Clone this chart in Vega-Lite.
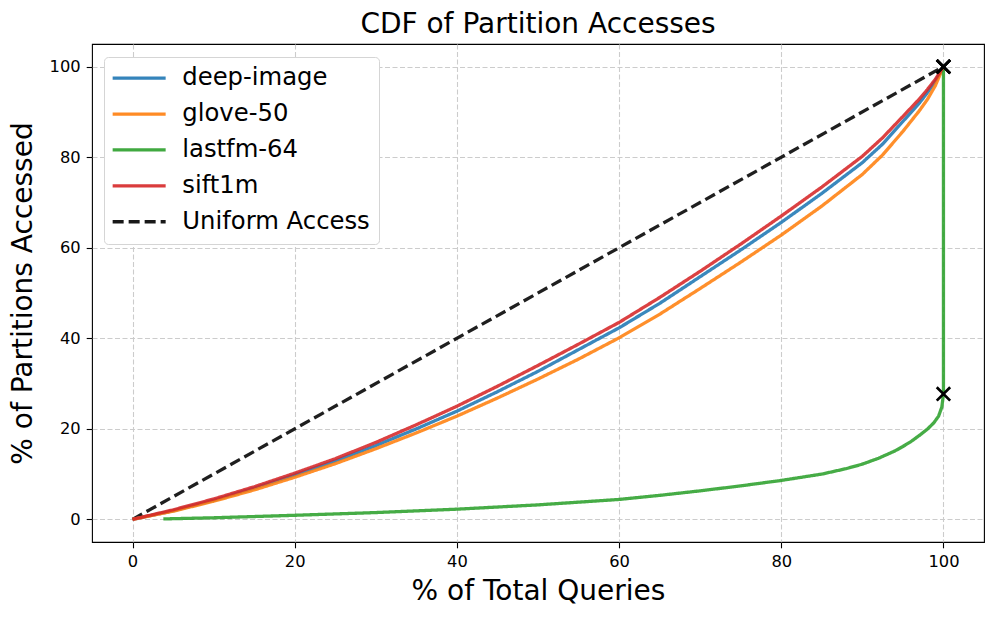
{
  "$schema": "https://vega.github.io/schema/vega-lite/v6.json",
  "width": 892,
  "height": 498,
  "autosize": {"type": "none"},
  "padding": {"left": 92, "top": 44, "right": 12, "bottom": 77},
  "title": {"text": "CDF of Partition Accesses", "font": "DejaVu Sans", "fontSize": 28, "fontWeight": "normal", "color": "black", "anchor": "middle", "baseline": "bottom", "offset": 3, "dy": 26},
  "config": {
    "view": {"stroke": "black", "strokeWidth": 1.1},
    "axis": {
      "domain": false,
      "ticks": true,
      "tickColor": "black",
      "tickSize": 5.8,
      "tickWidth": 1.1,
      "labelFont": "DejaVu Sans",
      "labelFontSize": 16.3,
      "labelColor": "black",
      "labelPadding": 6,
      "grid": true,
      "gridColor": "#cccccc",
      "gridDash": [5, 2.5],
      "gridWidth": 1.1,
      "titleFont": "DejaVu Sans",
      "titleFontSize": 28,
      "titleFontWeight": "normal",
      "titleColor": "black"
    },
    "legend": {
      "orient": "none",
      "legendX": 12,
      "legendY": 13,
      "labelFont": "DejaVu Sans",
      "labelFontSize": 24.3,
      "labelColor": "black",
      "labelLimit": 0,
      "symbolType": "M-5.3,0L5.3,0",
      "symbolStrokeWidth": 3.3,
      "symbolSize": 100,
      "symbolOffset": 14,
      "symbolOpacity": 0.9,
      "strokeColor": "#d5d5d5",
      "fillColor": "white",
      "cornerRadius": 4,
      "padding": 9,
      "rowPadding": 10.9,
      "labelOffset": 31
    }
  },
  "datasets": {
    "curves": [
      {"series": "Uniform Access", "i": 0, "x": 0, "y": 0},
      {"series": "Uniform Access", "i": 1, "x": 100, "y": 100},
      {"series": "deep-image", "i": 0, "x": 0, "y": 0},
      {"series": "deep-image", "i": 1, "x": 5, "y": 1.9},
      {"series": "deep-image", "i": 2, "x": 10, "y": 4.2},
      {"series": "deep-image", "i": 3, "x": 15, "y": 6.9},
      {"series": "deep-image", "i": 4, "x": 20, "y": 9.8},
      {"series": "deep-image", "i": 5, "x": 25, "y": 12.9},
      {"series": "deep-image", "i": 6, "x": 30, "y": 16.3},
      {"series": "deep-image", "i": 7, "x": 35, "y": 20.0},
      {"series": "deep-image", "i": 8, "x": 40, "y": 23.9},
      {"series": "deep-image", "i": 9, "x": 45, "y": 28.2},
      {"series": "deep-image", "i": 10, "x": 50, "y": 32.7},
      {"series": "deep-image", "i": 11, "x": 55, "y": 37.5},
      {"series": "deep-image", "i": 12, "x": 60, "y": 42.3},
      {"series": "deep-image", "i": 13, "x": 65, "y": 47.7},
      {"series": "deep-image", "i": 14, "x": 70, "y": 53.6},
      {"series": "deep-image", "i": 15, "x": 75, "y": 59.5},
      {"series": "deep-image", "i": 16, "x": 80, "y": 65.6},
      {"series": "deep-image", "i": 17, "x": 85, "y": 72.0},
      {"series": "deep-image", "i": 18, "x": 90, "y": 78.8},
      {"series": "deep-image", "i": 19, "x": 92.5, "y": 82.9},
      {"series": "deep-image", "i": 20, "x": 95, "y": 87.9},
      {"series": "deep-image", "i": 21, "x": 97, "y": 91.9},
      {"series": "deep-image", "i": 22, "x": 98, "y": 94.2},
      {"series": "deep-image", "i": 23, "x": 99, "y": 96.8},
      {"series": "deep-image", "i": 24, "x": 100, "y": 100},
      {"series": "glove-50", "i": 0, "x": 0, "y": 0},
      {"series": "glove-50", "i": 1, "x": 5, "y": 1.8},
      {"series": "glove-50", "i": 2, "x": 10, "y": 4.0},
      {"series": "glove-50", "i": 3, "x": 15, "y": 6.5},
      {"series": "glove-50", "i": 4, "x": 20, "y": 9.3},
      {"series": "glove-50", "i": 5, "x": 25, "y": 12.3},
      {"series": "glove-50", "i": 6, "x": 30, "y": 15.6},
      {"series": "glove-50", "i": 7, "x": 35, "y": 19.1},
      {"series": "glove-50", "i": 8, "x": 40, "y": 22.8},
      {"series": "glove-50", "i": 9, "x": 45, "y": 26.8},
      {"series": "glove-50", "i": 10, "x": 50, "y": 31.0},
      {"series": "glove-50", "i": 11, "x": 55, "y": 35.4},
      {"series": "glove-50", "i": 12, "x": 60, "y": 40.1},
      {"series": "glove-50", "i": 13, "x": 65, "y": 45.3},
      {"series": "glove-50", "i": 14, "x": 70, "y": 51.0},
      {"series": "glove-50", "i": 15, "x": 75, "y": 56.8},
      {"series": "glove-50", "i": 16, "x": 80, "y": 62.8},
      {"series": "glove-50", "i": 17, "x": 85, "y": 69.2},
      {"series": "glove-50", "i": 18, "x": 90, "y": 76.2},
      {"series": "glove-50", "i": 19, "x": 92.5, "y": 80.5},
      {"series": "glove-50", "i": 20, "x": 95, "y": 85.7},
      {"series": "glove-50", "i": 21, "x": 97, "y": 90.2},
      {"series": "glove-50", "i": 22, "x": 98, "y": 92.7},
      {"series": "glove-50", "i": 23, "x": 99, "y": 95.8},
      {"series": "glove-50", "i": 24, "x": 100, "y": 100},
      {"series": "lastfm-64", "i": 0, "x": 3.8, "y": 0.1},
      {"series": "lastfm-64", "i": 1, "x": 10, "y": 0.35},
      {"series": "lastfm-64", "i": 2, "x": 20, "y": 0.9},
      {"series": "lastfm-64", "i": 3, "x": 30, "y": 1.5},
      {"series": "lastfm-64", "i": 4, "x": 40, "y": 2.25},
      {"series": "lastfm-64", "i": 5, "x": 50, "y": 3.2},
      {"series": "lastfm-64", "i": 6, "x": 60, "y": 4.4},
      {"series": "lastfm-64", "i": 7, "x": 65, "y": 5.3},
      {"series": "lastfm-64", "i": 8, "x": 70, "y": 6.3},
      {"series": "lastfm-64", "i": 9, "x": 75, "y": 7.4},
      {"series": "lastfm-64", "i": 10, "x": 80, "y": 8.6},
      {"series": "lastfm-64", "i": 11, "x": 85, "y": 10.0},
      {"series": "lastfm-64", "i": 12, "x": 88, "y": 11.2},
      {"series": "lastfm-64", "i": 13, "x": 90, "y": 12.2},
      {"series": "lastfm-64", "i": 14, "x": 92, "y": 13.5},
      {"series": "lastfm-64", "i": 15, "x": 94, "y": 15.1},
      {"series": "lastfm-64", "i": 16, "x": 95, "y": 16.1},
      {"series": "lastfm-64", "i": 17, "x": 96, "y": 17.2},
      {"series": "lastfm-64", "i": 18, "x": 97, "y": 18.5},
      {"series": "lastfm-64", "i": 19, "x": 98, "y": 19.9},
      {"series": "lastfm-64", "i": 20, "x": 98.8, "y": 21.3},
      {"series": "lastfm-64", "i": 21, "x": 99.4, "y": 22.8},
      {"series": "lastfm-64", "i": 22, "x": 99.8, "y": 24.8},
      {"series": "lastfm-64", "i": 23, "x": 100, "y": 27.7},
      {"series": "lastfm-64", "i": 24, "x": 100, "y": 100},
      {"series": "sift1m", "i": 0, "x": 0, "y": 0},
      {"series": "sift1m", "i": 1, "x": 5, "y": 2.1},
      {"series": "sift1m", "i": 2, "x": 10, "y": 4.5},
      {"series": "sift1m", "i": 3, "x": 15, "y": 7.2},
      {"series": "sift1m", "i": 4, "x": 20, "y": 10.2},
      {"series": "sift1m", "i": 5, "x": 25, "y": 13.4},
      {"series": "sift1m", "i": 6, "x": 30, "y": 17.0},
      {"series": "sift1m", "i": 7, "x": 35, "y": 20.9},
      {"series": "sift1m", "i": 8, "x": 40, "y": 25.0},
      {"series": "sift1m", "i": 9, "x": 45, "y": 29.4},
      {"series": "sift1m", "i": 10, "x": 50, "y": 34.0},
      {"series": "sift1m", "i": 11, "x": 55, "y": 38.7},
      {"series": "sift1m", "i": 12, "x": 60, "y": 43.5},
      {"series": "sift1m", "i": 13, "x": 65, "y": 49.0},
      {"series": "sift1m", "i": 14, "x": 70, "y": 54.8},
      {"series": "sift1m", "i": 15, "x": 75, "y": 60.8},
      {"series": "sift1m", "i": 16, "x": 80, "y": 67.0},
      {"series": "sift1m", "i": 17, "x": 85, "y": 73.4},
      {"series": "sift1m", "i": 18, "x": 90, "y": 80.2},
      {"series": "sift1m", "i": 19, "x": 92.5, "y": 84.3},
      {"series": "sift1m", "i": 20, "x": 95, "y": 89.0},
      {"series": "sift1m", "i": 21, "x": 97, "y": 92.8},
      {"series": "sift1m", "i": 22, "x": 98, "y": 94.9},
      {"series": "sift1m", "i": 23, "x": 99, "y": 97.2},
      {"series": "sift1m", "i": 24, "x": 100, "y": 100}
    ],
    "markers": [
      {"series": "deep-image", "x": 100, "y": 100},
      {"series": "glove-50", "x": 100, "y": 100},
      {"series": "sift1m", "x": 100, "y": 100},
      {"series": "lastfm-64", "x": 100, "y": 27.7}
    ]
  },
  "layer": [
    {
      "data": {"name": "curves"},
      "mark": {"type": "line", "strokeWidth": 3.3, "opacity": 0.88, "clip": true},
      "encoding": {
        "x": {"field": "x", "type": "quantitative", "scale": {"domain": [-5, 105], "nice": false, "zero": false}, "axis": {"values": [0, 20, 40, 60, 80, 100], "title": "% of Total Queries", "titlePadding": 7}},
        "y": {"field": "y", "type": "quantitative", "scale": {"domain": [-5, 105], "nice": false, "zero": false}, "axis": {"values": [0, 20, 40, 60, 80, 100], "title": "% of Partitions Accessed", "titlePadding": 12}},
        "order": {"field": "i", "type": "quantitative"},
        "color": {"field": "series", "type": "nominal", "title": null, "scale": {"domain": ["deep-image", "glove-50", "lastfm-64", "sift1m", "Uniform Access"], "range": ["#1f77b4", "#ff7f0e", "#2ca02c", "#d62728", "#000000"]}},
        "strokeDash": {"field": "series", "type": "nominal", "title": null, "scale": {"domain": ["deep-image", "glove-50", "lastfm-64", "sift1m", "Uniform Access"], "range": [[1, 0], [1, 0], [1, 0], [1, 0], [11, 5]]}}
      }
    },
    {
      "data": {"name": "markers"},
      "mark": {"type": "point", "shape": "M-1,-1L1,1M-1,1L1,-1", "filled": false, "stroke": "black", "strokeWidth": 2.7, "size": 180, "opacity": 1, "clip": false},
      "encoding": {
        "x": {"field": "x", "type": "quantitative"},
        "y": {"field": "y", "type": "quantitative"}
      }
    }
  ]
}
